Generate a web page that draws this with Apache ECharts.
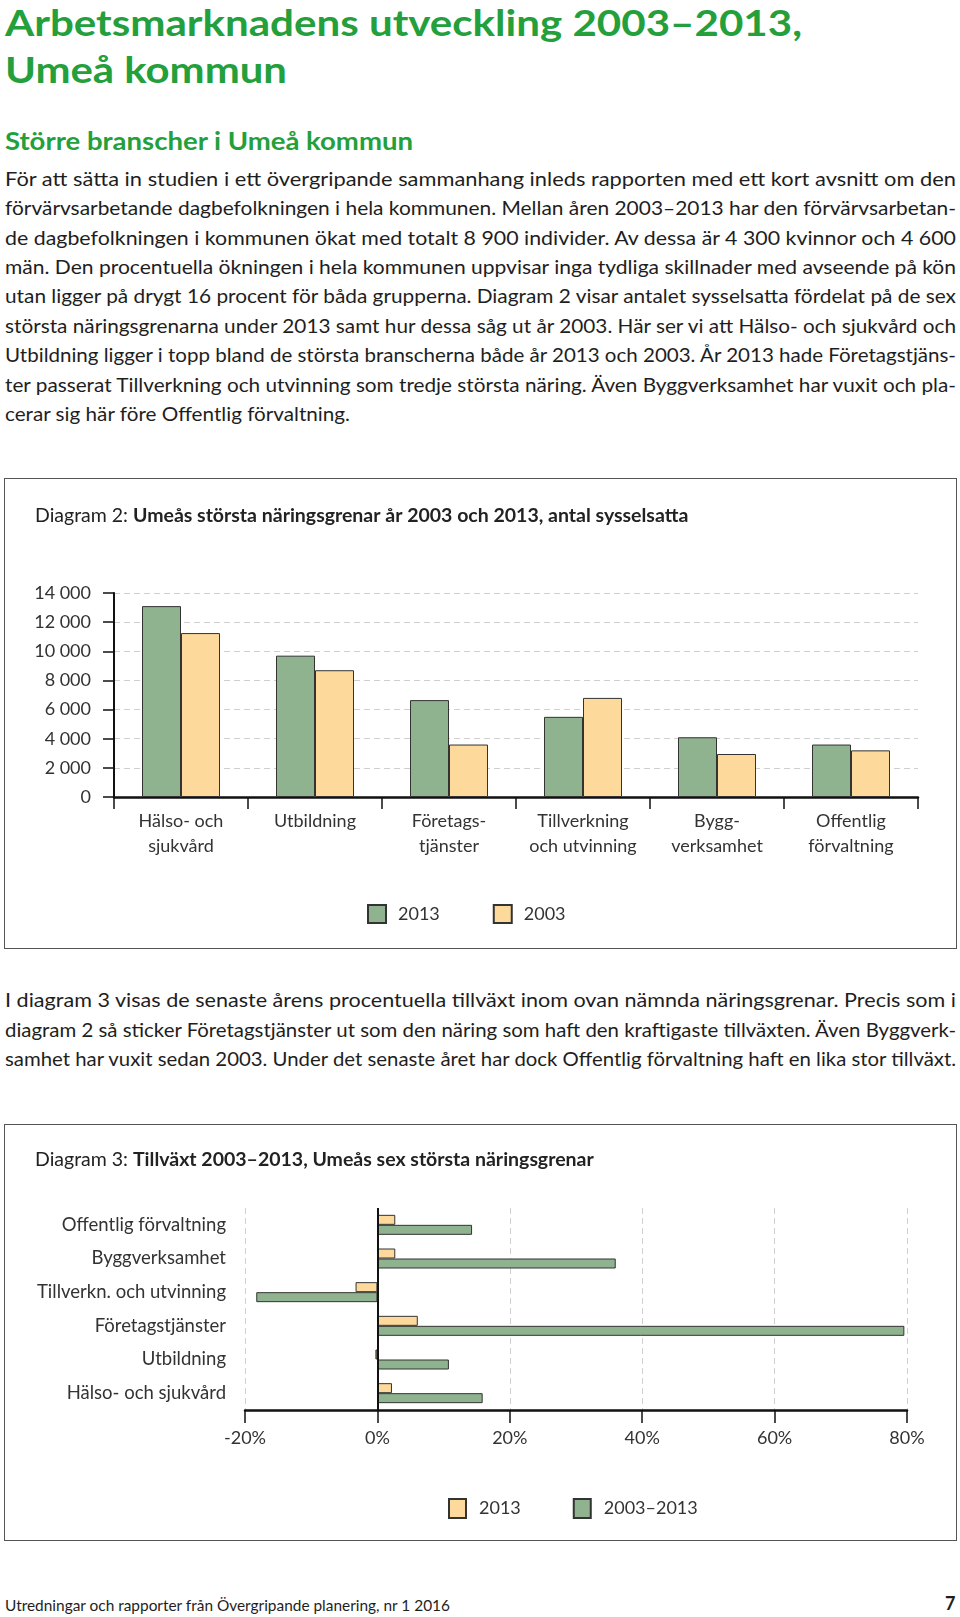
<!DOCTYPE html>
<html><head><meta charset="utf-8">
<script src="https://cdn.jsdelivr.net/npm/echarts@6/dist/echarts.min.js"></script>
<style>
html,body{margin:0;padding:0;background:#fff;}
body{width:960px;height:1617px;position:relative;overflow:hidden;font-family:Lato,'Noto Sans',sans-serif;color:#1e1e1e;}
.t{position:absolute;white-space:nowrap;line-height:1.2;}
.box{position:absolute;border:1.5px solid #555;box-sizing:border-box;}
.chart{position:absolute;left:0;width:960px;}
</style></head><body>
<div class="box" style="left:4px;top:478px;width:953px;height:471px;"></div>
<div class="box" style="left:4px;top:1124px;width:953px;height:417px;"></div>
<div id="c1" class="chart" style="top:478px;height:470px;"></div>
<div id="c2" class="chart" style="top:1124px;height:416px;"></div>
<script>
// ---------- data ----------
const categories1 = ['Hälso- och\nsjukvård','Utbildning','Företags-\ntjänster','Tillverkning\noch utvinning','Bygg-\nverksamhet','Offentlig\nförvaltning'];
const values2013 = [13100, 9700, 6650, 5500, 4100, 3600];
const values2003 = [11250, 8700, 3600, 6800, 2950, 3200];
const yTicks1 = [0, 2000, 4000, 6000, 8000, 10000, 12000, 14000];

const categories3 = ['Offentlig förvaltning','Byggverksamhet','Tillverkn. och utvinning','Företagstjänster','Utbildning','Hälso- och sjukvård'];
const growth2013 = [2.7, 2.7, -3.3, 6.1, -0.3, 2.2];
const growth2003to2013 = [14.3, 36.0, -18.3, 79.6, 10.8, 15.9];
const xTicks3 = [-20, 0, 20, 40, 60, 80];

// ---------- page text ----------
function addLine(txt, x, baseline, fs, opt) {
  opt = opt || {};
  const d = document.createElement('div');
  d.className = 't';
  d.textContent = txt;
  d.style.left = x + 'px';
  d.style.top = (baseline - 0.987 * fs) + 'px';
  d.style.fontSize = fs + 'px';
  if (opt.bold) d.style.fontWeight = 'bold';
  if (opt.color) d.style.color = opt.color;
  document.body.appendChild(d);
  if (opt.width) {
    const w = d.getBoundingClientRect().width;
    d.style.transformOrigin = '0 0';
    d.style.transform = 'scaleX(' + (opt.width / w) + ')';
  }
  return d;
}
const green = '#23a03c';
addLine('Arbetsmarknadens utveckling 2003–2013,', 5, 37, 36, {bold:true, color:green, width:797});
addLine('Umeå kommun', 5, 84, 36, {bold:true, color:green, width:282});
addLine('Större branscher i Umeå kommun', 5, 150, 25, {bold:true, color:green, width:408});

const p1 = [
 'För att sätta in studien i ett övergripande sammanhang inleds rapporten med ett kort avsnitt om den',
 'förvärvsarbetande dagbefolkningen i hela kommunen. Mellan åren 2003–2013 har den förvärvsarbetan-',
 'de dagbefolkningen i kommunen ökat med totalt 8 900 individer. Av dessa är 4 300 kvinnor och 4 600',
 'män. Den procentuella ökningen i hela kommunen uppvisar inga tydliga skillnader med avseende på kön',
 'utan ligger på drygt 16 procent för båda grupperna. Diagram 2 visar antalet sysselsatta fördelat på de sex',
 'största näringsgrenarna under 2013 samt hur dessa såg ut år 2003. Här ser vi att Hälso- och sjukvård och',
 'Utbildning ligger i topp bland de största branscherna både år 2013 och 2003. År 2013 hade Företagstjäns-',
 'ter passerat Tillverkning och utvinning som tredje största näring. Även Byggverksamhet har vuxit och pla-',
 'cerar sig här före Offentlig förvaltning.'
];
p1.forEach((l, i) => addLine(l, 5, 185.5 + 29.4 * i, 20, i < p1.length - 1 ? {width:951} : {width:345}));

const p2 = [
 'I diagram 3 visas de senaste årens procentuella tillväxt inom ovan nämnda näringsgrenar. Precis som i',
 'diagram 2 så sticker Företagstjänster ut som den näring som haft den kraftigaste tillväxten. Även Byggverk-',
 'samhet har vuxit sedan 2003. Under det senaste året har dock Offentlig förvaltning haft en lika stor tillväxt.'
];
p2.forEach((l, i) => addLine(l, 5, 1007 + 29.4 * i, 20, {width:951}));

addLine('Utredningar och rapporter från Övergripande planering, nr 1 2016', 5, 1611, 15, {width:445});
addLine('7', 945, 1611, 18, {bold:true});

// ---------- charts ----------
const cGreen = '#8fb38f', cYellow = '#fdd99b', cBorder = '#333';
const F = 'Lato';
function fmtThousands(v){ return String(v).replace(/\B(?=(\d{3})+(?!\d))/g, ' '); }

const c1 = echarts.init(document.getElementById('c1'));
c1.setOption({
  animation:false,
  backgroundColor:'transparent',
  title:{left:30, top:23, text:'{n|Diagram 2: }{b|Umeås största näringsgrenar år 2003 och 2013, antal sysselsatta}',
    textStyle:{rich:{n:{fontFamily:F,fontSize:19.5,fontWeight:'normal',color:'#222'}, b:{fontFamily:F,fontSize:19.5,fontWeight:'bold',color:'#222'}}}},
  legend:{left:362, top:421, itemWidth:18, itemHeight:18, itemGap:53, icon:'rect', data:['2013','2003'],
    textStyle:{fontFamily:F,fontSize:18,color:'#333',padding:[0,0,0,7]}},
  grid:{left:114, right:42, top:115, bottom:151, outerBoundsMode:'none'},
  xAxis:{type:'category', data:categories1,
    axisLine:{lineStyle:{color:'#111',width:2.5}},
    axisTick:{show:true, length:12, lineStyle:{color:'#111',width:1.5}},
    axisLabel:{fontFamily:F,fontSize:18,color:'#333',lineHeight:25,margin:12,interval:0}},
  yAxis:{type:'value', min:yTicks1[0], max:yTicks1[yTicks1.length-1], interval:2000,
    axisLine:{show:true,lineStyle:{color:'#111',width:2}},
    axisTick:{show:true,length:11,lineStyle:{color:'#111',width:1.5}},
    axisLabel:{formatter:fmtThousands,fontFamily:F,fontSize:18,color:'#333',margin:23},
    splitLine:{show:true,lineStyle:{type:[6,4],color:'#cfcfcf',width:1}}},
  series:[
    {name:'2013', type:'bar', data:values2013, barWidth:39, barGap:'0%',
      itemStyle:{color:cGreen,borderColor:cBorder,borderWidth:1}},
    {name:'2003', type:'bar', data:values2003, barWidth:39, barGap:'0%',
      itemStyle:{color:cYellow,borderColor:cBorder,borderWidth:1}}
  ]
});

const c2 = echarts.init(document.getElementById('c2'));
c2.setOption({
  animation:false,
  backgroundColor:'transparent',
  title:{left:30, top:21, text:'{n|Diagram 3: }{b|Tillväxt 2003–2013, Umeås sex största näringsgrenar}',
    textStyle:{rich:{n:{fontFamily:F,fontSize:19.5,fontWeight:'normal',color:'#222'}, b:{fontFamily:F,fontSize:19.5,fontWeight:'bold',color:'#222'}}}},
  legend:{left:443, top:369, itemWidth:17, itemHeight:19, itemGap:52, icon:'rect', data:['2013','2003–2013'],
    textStyle:{fontFamily:F,fontSize:18,color:'#333',padding:[0,0,0,8]}},
  grid:{left:245, right:53, top:84, bottom:130, outerBoundsMode:'none'},
  xAxis:{type:'value', min:xTicks3[0], max:xTicks3[xTicks3.length-1], interval:20,
    axisLine:{show:true,onZero:false,lineStyle:{color:'#111',width:2.5}},
    axisTick:{show:true,length:13,lineStyle:{color:'#111',width:1.5}},
    axisLabel:{formatter:'{value}%',fontFamily:F,fontSize:18,color:'#333',margin:19},
    splitLine:{show:true,lineStyle:{type:[6,4],color:'#cfcfcf',width:1}}},
  yAxis:{type:'category', inverse:true, data:categories3,
    axisLine:{show:false,onZero:false}, axisTick:{show:false},
    axisLabel:{fontFamily:F,fontSize:18.5,color:'#333',margin:19}},
  series:[
    {name:'2013', type:'bar', data:growth2013, barWidth:10, barGap:'0%',
      itemStyle:{color:cYellow,borderColor:cBorder,borderWidth:1},
      markLine:{silent:true,symbol:'none',label:{show:false},animation:false,
        lineStyle:{color:'#111',width:2,type:'solid'},data:[{xAxis:0}]}},
    {name:'2003–2013', type:'bar', data:growth2003to2013, barWidth:10, barGap:'0%',
      itemStyle:{color:cGreen,borderColor:cBorder,borderWidth:1}}
  ]
});
</script>
</body></html>
